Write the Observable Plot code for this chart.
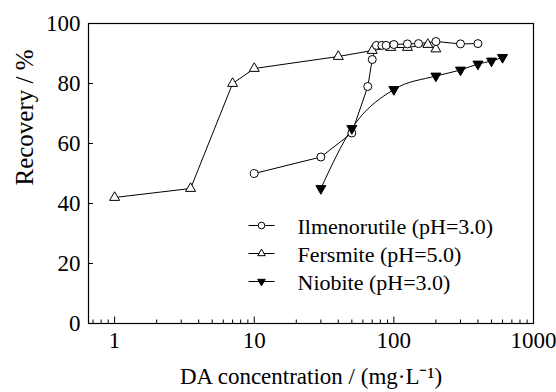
<!DOCTYPE html>
<html>
<head>
<meta charset="utf-8">
<script src="https://cdn.jsdelivr.net/npm/d3@7"></script>
<script src="https://cdn.jsdelivr.net/npm/@observablehq/plot@0.6"></script>
<style>
  html, body { margin: 0; padding: 0; background: #fff; }
  #chart { width: 556px; height: 392px; }
</style>
</head>
<body>
<div id="chart"></div>
<script>
// ---- data ----
const ilmenoX = [10, 30, 50, 65, 70, 75, 82, 88, 100, 125, 150, 200, 300, 400];
const ilmenoY = [50, 55.5, 63.5, 79, 88, 92.7, 92.7, 92.7, 93, 93.2, 93.3, 94, 93.2, 93.3];
const fersX = [1, 3.5, 7, 10, 40, 70, 95, 125, 175, 200];
const fersY = [42, 45, 80, 85, 89, 91, 92, 92, 93, 91.5];
const niobX = [30, 50, 100, 200, 300, 400, 500, 600];
const niobY = [45, 65, 78, 82.5, 84.5, 86.5, 87.5, 88.7];
const seriesNames = ["Ilmenorutile (pH=3.0)", "Fersmite (pH=5.0)", "Niobite (pH=3.0)"];
const xTickValues = [1, 10, 100, 1000];
const yTickValues = [0, 20, 40, 60, 80, 100];
const xLabel = "DA concentration / (mg·L\u207B\u00B9)";
const yLabel = "Recovery / %";

const toRows = (xs, ys) => xs.map((x, i) => ({x, y: ys[i]}));
const ilmeno = toRows(ilmenoX, ilmenoY);
const fers = toRows(fersX, fersY);
const niob = toRows(niobX, niobY);

// minor ticks for log axis
const minorTicks = [];
for (let d = 0.1; d < 1000; d *= 10) for (let k = 2; k <= 9; k++) {
  const v = +(d * k).toPrecision(3);
  if (v >= 0.65 && v <= 1000) minorTicks.push(v);
}

const W = 556, H = 392;
const mL = 88, mT = 23, mR = 23, mB = 69;
const frameW = W - mL - mR, frameH = H - mT - mB;
const FONT = "Liberation Serif";

// horizontal legend line as a custom symbol
const hline = {draw(ctx) { ctx.moveTo(-13, 0); ctx.lineTo(13, 0); }};

const plot = Plot.plot({
  width: W,
  height: H,
  marginLeft: mL,
  marginTop: mT,
  marginRight: mR,
  marginBottom: mB,
  style: "background:#fff;color:#000;font-family:'Liberation Serif',serif;",
  x: {type: "log", domain: [0.65, 1000]},
  y: {domain: [0, 100]},
  marks: [
    Plot.axisX(xTickValues, {tickSize: 0, tickPadding: 8, fontSize: 23, fontFamily: FONT, label: null, tickFormat: d => String(d)}),
    Plot.axisY(yTickValues, {tickSize: 0, tickPadding: 8, fontSize: 23, fontFamily: FONT, label: null}),
    Plot.tickX(minorTicks, {x: d => d, insetTop: frameH - 3.5, stroke: "#000", strokeWidth: 1}),
    Plot.tickX(xTickValues, {x: d => d, insetTop: frameH - 6.5, stroke: "#000", strokeWidth: 1}),
    Plot.tickY(yTickValues, {y: d => d, insetRight: frameW - 5, stroke: "#000", strokeWidth: 1}),
    Plot.frame({stroke: "#000", strokeWidth: 1.2}),
    Plot.line(fers, {x: "x", y: "y", stroke: "#000", strokeWidth: 1}),
    Plot.line(ilmeno, {x: "x", y: "y", stroke: "#000", strokeWidth: 1}),
    Plot.line(niob, {x: "x", y: "y", stroke: "#000", strokeWidth: 1, curve: "monotone-x"}),
    Plot.dot(fers, {x: "x", y: "y", symbol: "triangle", r: 3.7, fill: "#fff", stroke: "#000", strokeWidth: 1}),
    Plot.dot(ilmeno, {x: "x", y: "y", symbol: "circle", r: 4, fill: "#fff", stroke: "#000", strokeWidth: 1}),
    Plot.dot(niob, {x: "x", y: "y", symbol: "triangle", r: 3.7, rotate: 180, fill: "#000", stroke: "#000", strokeWidth: 1}),
    Plot.text([yLabel], {text: d => d, frameAnchor: "left", lineAnchor: "middle", dx: -64, dy: 12, rotate: -90, fontSize: 25, fontFamily: FONT, fill: "#000"}),
    Plot.text([xLabel], {text: d => d, frameAnchor: "bottom", lineAnchor: "middle", dy: 53, fontSize: 23, fontFamily: FONT, fill: "#000"}),
    // legend
    ...seriesNames.flatMap((name, i) => {
      const dy = 202 + i * 28;
      return [
        Plot.dot([name], {frameAnchor: "top-left", dx: 173, dy, symbol: hline, r: 1, fill: "none", stroke: "#000", strokeWidth: 1}),
        Plot.dot([name], {frameAnchor: "top-left", dx: 173, dy, symbol: i === 0 ? "circle" : "triangle", r: i === 0 ? 3.3 : 2.8, rotate: i === 2 ? 180 : 0, fill: i === 2 ? "#000" : "#fff", stroke: "#000", strokeWidth: 1}),
        Plot.text([name], {text: d => d, frameAnchor: "top-left", lineAnchor: "middle", dx: 209, dy: dy + 1, textAnchor: "start", fontSize: 22, fontFamily: FONT, fill: "#000"})
      ];
    })
  ]
});
document.getElementById("chart").appendChild(plot);
</script>
</body>
</html>
